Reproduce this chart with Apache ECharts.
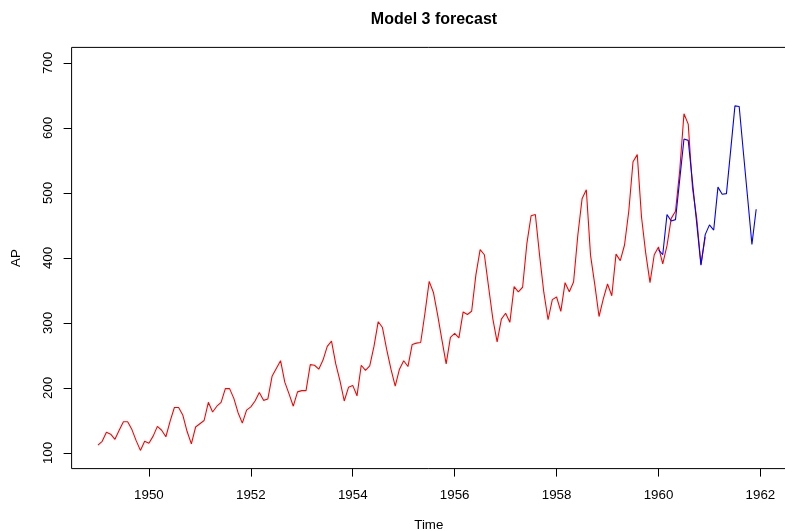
<!DOCTYPE html>
<html>
<head>
<meta charset="utf-8">
<script src="https://cdn.jsdelivr.net/npm/echarts@6/dist/echarts.min.js"></script>
<style>
  html, body { margin: 0; padding: 0; background: #fff; }
  #chart { width: 785px; height: 531px; }
</style>
</head>
<body>
<div id="chart"></div>
<script>
// Monthly air passenger totals (thousands), Jan 1949 - Dec 1960
const observedStart = 1949;
const observed = [
  112, 118, 132, 129, 121, 135, 148, 148, 136, 119, 104, 118,
  115, 126, 141, 135, 125, 149, 170, 170, 158, 133, 114, 140,
  145, 150, 178, 163, 172, 178, 199, 199, 184, 162, 146, 166,
  171, 180, 193, 181, 183, 218, 230, 242, 209, 191, 172, 194,
  196, 196, 236, 235, 229, 243, 264, 272, 237, 211, 180, 201,
  204, 188, 235, 227, 234, 264, 302, 293, 259, 229, 203, 229,
  242, 233, 267, 269, 270, 315, 364, 347, 312, 274, 237, 278,
  284, 277, 317, 313, 318, 374, 413, 405, 355, 306, 271, 306,
  315, 301, 356, 348, 355, 422, 465, 467, 404, 347, 305, 336,
  340, 318, 362, 348, 363, 435, 491, 505, 404, 359, 310, 337,
  360, 342, 406, 396, 420, 472, 548, 559, 463, 407, 362, 405,
  417, 391, 419, 461, 472, 535, 622, 606, 508, 461, 390, 432
];

// Model 3 forecast, Jan 1960 - Dec 1961
const forecastStart = 1960;
const forecast = [
  413, 405, 467, 457, 459, 521, 583, 581, 517, 453, 389, 436,
  451, 443, 509, 498, 499, 566, 634, 633, 562, 492, 421, 475
];

const xTicks = [1950, 1952, 1954, 1956, 1958, 1960, 1962];
const yTicks = [100, 200, 300, 400, 500, 600, 700];

// monthly series -> [time, value] pairs
function toPairs(start, values) {
  return values.map((v, i) => [start + i / 12, v]);
}

const font = 'Liberation Sans, Arial, Helvetica, sans-serif';
const chart = echarts.init(document.getElementById('chart'), null, { renderer: 'canvas' });

chart.setOption({
  backgroundColor: '#fff',
  animation: false,
  title: {
    text: 'Model 3 forecast',
    left: 429,
    top: 7,
    textAlign: 'center',
    textStyle: { fontFamily: font, fontSize: 16, fontWeight: 'bold', color: '#000' }
  },
  grid: {
    left: 71.6, right: -1, top: 47.4, bottom: 62.4,
    containLabel: false, outerBoundsMode: 'none',
    show: true, borderColor: '#000', borderWidth: 1, backgroundColor: 'transparent'
  },
  xAxis: {
    type: 'value',
    min: 1948.483, max: 1962.502,
    name: 'Time', nameLocation: 'middle', nameGap: 50,
    nameTextStyle: { fontFamily: font, fontSize: 13.33, color: '#000' },
    axisLine: { show: false },
    axisTick: { show: true, length: 8, inside: false, customValues: xTicks, lineStyle: { color: '#000' } },
    axisLabel: { customValues: xTicks, margin: 20, fontFamily: font, fontSize: 13.33, color: '#000',
      formatter: v => String(v) },
    splitLine: { show: false }
  },
  yAxis: {
    type: 'value',
    min: 76, max: 724,
    name: 'AP', nameLocation: 'middle', nameGap: 49, nameRotate: 90,
    nameTextStyle: { fontFamily: font, fontSize: 13.33, color: '#000' },
    axisLine: { show: false },
    axisTick: { show: true, length: 8, customValues: yTicks, lineStyle: { color: '#000' } },
    axisLabel: { customValues: yTicks, rotate: 90, margin: 17, fontFamily: font, fontSize: 13.33, color: '#000',
      formatter: v => String(v) },
    splitLine: { show: false }
  },
  series: [
    {
      type: 'line', data: toPairs(observedStart, observed),
      showSymbol: false, symbol: 'none',
      lineStyle: { color: '#ff0000', width: 1.1 }, z: 2
    },
    {
      type: 'line', data: toPairs(forecastStart, forecast),
      showSymbol: false, symbol: 'none',
      lineStyle: { color: '#0000ff', width: 1.1 }, z: 3
    }
  ]
});
</script>
</body>
</html>
